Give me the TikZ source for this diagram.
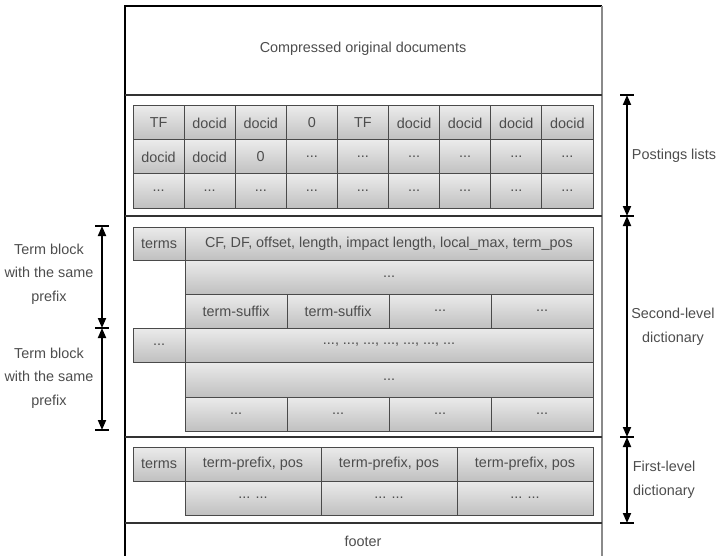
\documentclass[tikz,border=0pt]{standalone}
\usepackage{fontspec}
\setmainfont{Liberation Sans}
\usetikzlibrary{arrows.meta}
\definecolor{txt}{HTML}{4D4D4D}
\definecolor{edge}{HTML}{4A4A4A}
\definecolor{celltop}{HTML}{EBEBEB}
\definecolor{cellbot}{HTML}{C0C0C0}
\definecolor{rightedge}{HTML}{8A8A8A}
\tikzset{
  x=1pt, y=-1pt,
  cell/.style={draw=edge, line width=1pt, top color=celltop, bottom color=cellbot,
    inner sep=0pt, outer sep=0pt, text=txt, font=\fontsize{14.4}{16}\selectfont},
  lbl/.style={text=txt, align=center, font=\fontsize{14.4}{23.5}\selectfont},
  span/.style={line width=1.8pt, {Triangle[length=10pt,width=8pt]}-{Triangle[length=10pt,width=8pt]}},
  tickbar/.style={line width=1.2pt},
  frameline/.style={line width=1.3pt, draw=black},
  divline/.style={line width=1.3pt, draw=black!80}
}
% \cellbox{name}{x1}{y1}{x2}{y2}{text}
\newcommand\cellbox[6]{%
  \node[cell, minimum width={(#4-(#2))*1pt}, minimum height={(#5-(#3))*1pt}]
    (#1) at ({(#2+#4)/2},{(#3+#5)/2}) {#6};}
\newcommand\dotsym{...}

\begin{document}
\begin{tikzpicture}
\useasboundingbox (0,0) rectangle (717,556);

% outer frame and section dividers
\coordinate (tl) at (125,6);
\coordinate (tr) at (602,6);
\coordinate (bl) at (125,556);
\coordinate (br) at (602,556);
\draw[frameline] (bl) -- (tl) -- (tr);
\draw[line width=1.3pt, draw=rightedge] (tr) -- (br);
\foreach \y/\n in {95/d1, 216/d2, 437/d3, 523/d4}{
  \coordinate (\n l) at (125,\y);
  \coordinate (\n r) at (602,\y);
  \draw[divline] (\n l) -- (\n r);
}

% top and bottom sections
\node[lbl] (compressed) at (363,49) {Compressed original documents};
\node[lbl] (footer) at (363,541) {footer};

% postings lists grid
\def\px{{133,184.1,235.2,286.3,337.4,388.5,439.6,490.7,541.8,593}}
\foreach \t [count=\c from 0] in {TF,docid,docid,0,TF,docid,docid,docid,docid}{
  \pgfmathsetmacro\xa{\px[\c]}\pgfmathsetmacro\xb{\px[\c+1]}
  \cellbox{pa\c}{\xa}{106}{\xb}{140}{\t}
}
\foreach \t [count=\c from 0] in {docid,docid,0,\dotsym,\dotsym,\dotsym,\dotsym,\dotsym,\dotsym}{
  \pgfmathsetmacro\xa{\px[\c]}\pgfmathsetmacro\xb{\px[\c+1]}
  \cellbox{pb\c}{\xa}{140}{\xb}{174}{\t}
}
\foreach \c in {0,1,2,3,4,5,6,7,8}{
  \pgfmathsetmacro\xa{\px[\c]}\pgfmathsetmacro\xb{\px[\c+1]}
  \cellbox{pc\c}{\xa}{174}{\xb}{208}{\dotsym}
}

% second-level dictionary
\cellbox{sterms}{133}{227}{185}{260}{terms}
\cellbox{sfields}{185}{227}{593}{260}{CF, DF, offset, length, impact length, local\_max, term\_pos}
\cellbox{sdots1}{185}{260}{593}{294}{...}
\cellbox{ssuf1}{185}{294}{287}{328}{term-suffix}
\cellbox{ssuf2}{287}{294}{389}{328}{term-suffix}
\cellbox{ssuf3}{389}{294}{491}{328}{...}
\cellbox{ssuf4}{491}{294}{593}{328}{...}
\cellbox{sterms2}{133}{328}{185}{362}{...}
\cellbox{sfields2}{185}{328}{593}{362}{..., ..., ..., ..., ..., ..., ...}
\cellbox{sdots2}{185}{362}{593}{397}{...}
\cellbox{slast1}{185}{397}{287}{431}{...}
\cellbox{slast2}{287}{397}{389}{431}{...}
\cellbox{slast3}{389}{397}{491}{431}{...}
\cellbox{slast4}{491}{397}{593}{431}{...}

% first-level dictionary
\cellbox{fterms}{133}{447}{185}{481}{terms}
\cellbox{fpre1}{185}{447}{321}{481}{term-prefix, pos}
\cellbox{fpre2}{321}{447}{457}{481}{term-prefix, pos}
\cellbox{fpre3}{457}{447}{593}{481}{term-prefix, pos}
\cellbox{fdots1}{185}{481}{321}{515}{... ...}
\cellbox{fdots2}{321}{481}{457}{515}{... ...}
\cellbox{fdots3}{457}{481}{593}{515}{... ...}

% section extents on the right
\foreach \y/\n in {95/ra, 216/rb, 437/rc, 523/rd}{
  \coordinate (\n) at (627,\y);
  \draw[tickbar] (620,\y) -- (634,\y);
}
\draw[span] (ra) -- (rb);
\draw[span] (rb) -- (rc);
\draw[span] (rc) -- (rd);
\node[lbl] (postlbl) at (674,156) {Postings lists};
\node[lbl] (seclbl) at (673,327) {Second-level\\dictionary};
\node[lbl] (firstlbl) at (664,480) {First-level\\dictionary};

% term blocks on the left
\foreach \y/\n in {226/la, 328/lb, 430/lc}{
  \coordinate (\n) at (102,\y);
  \draw[tickbar] (95,\y) -- (109,\y);
}
\draw[span] (la) -- (lb);
\draw[span] (lb) -- (lc);
\node[lbl] (blk1) at (49,274) {Term block\\with the same\\prefix};
\node[lbl] (blk2) at (49,378) {Term block\\with the same\\prefix};
\end{tikzpicture}
\end{document}
